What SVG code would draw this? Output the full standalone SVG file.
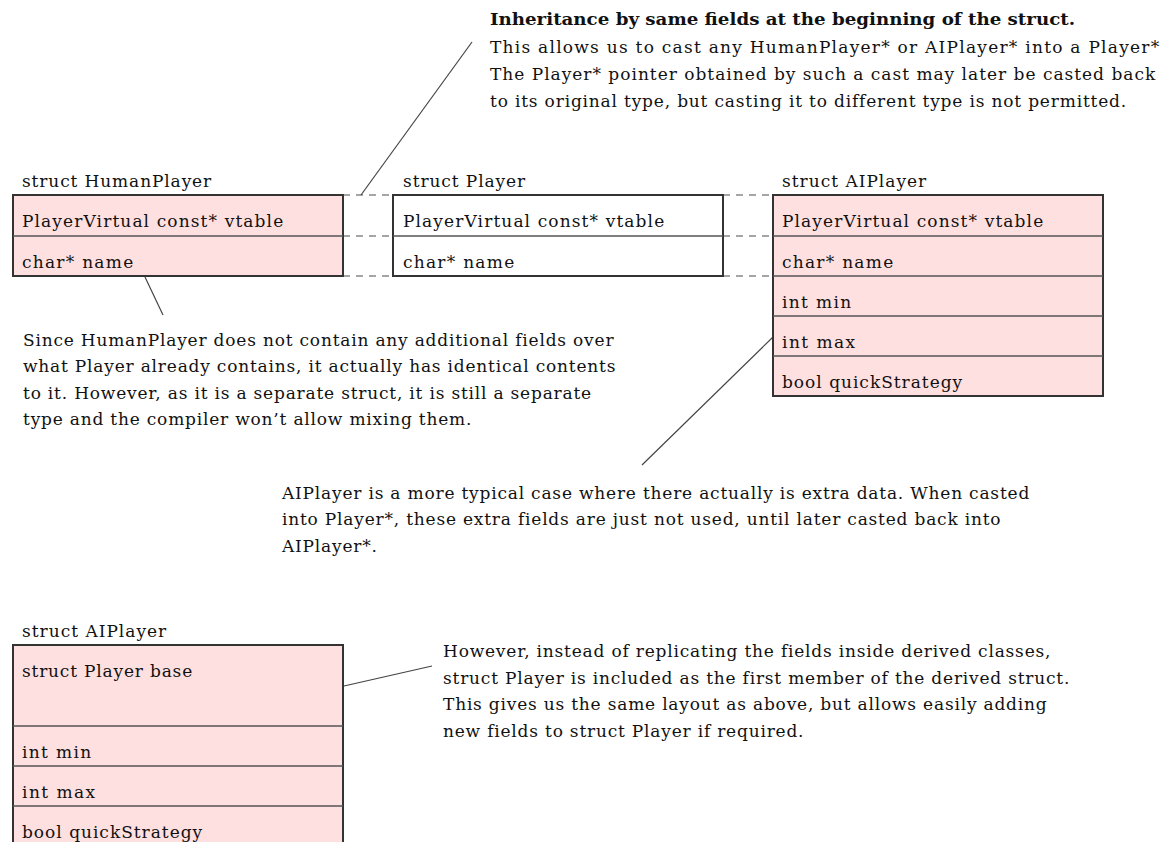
<svg xmlns="http://www.w3.org/2000/svg" width="1174" height="842" viewBox="0 0 1174 842">
<style>
  text { font-family: "DejaVu Serif", "Liberation Serif", serif; font-size: 17px; fill: #111; letter-spacing: 0.8px; }
  .b { font-weight: bold; letter-spacing: 0; }
  .box { fill: #ffe0e0; stroke: #333; stroke-width: 2; }
  .plain { fill: #fff; stroke: #333; stroke-width: 2; }
  .div { stroke: #555; stroke-width: 1.5; }
  .dash { stroke: #888; stroke-width: 1.3; stroke-dasharray: 7 6; fill: none; }
  .lead { stroke: #444; stroke-width: 1.2; fill: none; }
</style>
<rect width="1174" height="842" fill="#fff"/>

<g id="connectors">
  <line class="dash" x1="343" y1="195" x2="393" y2="195"/>
  <line class="dash" x1="343" y1="236" x2="393" y2="236"/>
  <line class="dash" x1="343" y1="276" x2="393" y2="276"/>
  <line class="dash" x1="723" y1="195" x2="773" y2="195"/>
  <line class="dash" x1="723" y1="236" x2="773" y2="236"/>
  <line class="dash" x1="723" y1="276" x2="773" y2="276"/>
  <line class="lead" x1="361" y1="195" x2="472" y2="42"/>
  <line class="lead" x1="145" y1="277" x2="163" y2="315"/>
  <line class="lead" x1="773" y1="337" x2="642" y2="465"/>
  <line class="lead" x1="344" y1="686" x2="432" y2="666"/>
</g>

<g id="note-inheritance">
  <text class="b" x="490" y="25" textLength="585" lengthAdjust="spacingAndGlyphs">Inheritance by same fields at the beginning of the struct.</text>
  <text x="490" y="53" textLength="670">This allows us to cast any HumanPlayer* or AIPlayer* into a Player*</text>
  <text x="490" y="80" textLength="666">The Player* pointer obtained by such a cast may later be casted back</text>
  <text x="490" y="107" textLength="637">to its original type, but casting it to different type is not permitted.</text>
</g>

<g id="HumanPlayer">
  <text x="22" y="187" textLength="190">struct HumanPlayer</text>
  <rect class="box" x="13" y="195" width="330" height="81"/>
  <line class="div" x1="13" y1="236" x2="343" y2="236"/>
  <text x="22" y="227" textLength="262">PlayerVirtual const* vtable</text>
  <text x="22" y="268" textLength="112">char* name</text>
</g>

<g id="Player">
  <text x="403" y="187" textLength="123">struct Player</text>
  <rect class="plain" x="393" y="195" width="330" height="81"/>
  <line class="div" x1="393" y1="236" x2="723" y2="236"/>
  <text x="403" y="227" textLength="262">PlayerVirtual const* vtable</text>
  <text x="403" y="268" textLength="112">char* name</text>
</g>

<g id="AIPlayer">
  <text x="782" y="187" textLength="145">struct AIPlayer</text>
  <rect class="box" x="773" y="195" width="330" height="201"/>
  <line class="div" x1="773" y1="236" x2="1103" y2="236"/>
  <line class="div" x1="773" y1="276" x2="1103" y2="276"/>
  <line class="div" x1="773" y1="316" x2="1103" y2="316"/>
  <line class="div" x1="773" y1="356" x2="1103" y2="356"/>
  <text x="782" y="227" textLength="262">PlayerVirtual const* vtable</text>
  <text x="782" y="268" textLength="112">char* name</text>
  <text x="782" y="308" textLength="70">int min</text>
  <text x="782" y="348" textLength="74">int max</text>
  <text x="782" y="388" textLength="181">bool quickStrategy</text>
</g>

<g id="note-human">
  <text x="23" y="346">Since HumanPlayer does not contain any additional fields over</text>
  <text x="23" y="372">what Player already contains, it actually has identical contents</text>
  <text x="23" y="399">to it. However, as it is a separate struct, it is still a separate</text>
  <text x="23" y="425">type and the compiler won’t allow mixing them.</text>
</g>

<g id="note-aiplayer">
  <text x="282" y="499">AIPlayer is a more typical case where there actually is extra data. When casted</text>
  <text x="282" y="525">into Player*, these extra fields are just not used, until later casted back into</text>
  <text x="282" y="552">AIPlayer*.</text>
</g>

<g id="AIPlayer2">
  <text x="22" y="637" textLength="145">struct AIPlayer</text>
  <rect class="box" x="13" y="645" width="330" height="202"/>
  <line class="div" x1="13" y1="726" x2="343" y2="726"/>
  <line class="div" x1="13" y1="766" x2="343" y2="766"/>
  <line class="div" x1="13" y1="806" x2="343" y2="806"/>
  <text x="22" y="677" textLength="171">struct Player base</text>
  <text x="22" y="758" textLength="70">int min</text>
  <text x="22" y="798" textLength="74">int max</text>
  <text x="22" y="838" textLength="181">bool quickStrategy</text>
</g>

<g id="note-base">
  <text x="443" y="657">However, instead of replicating the fields inside derived classes,</text>
  <text x="443" y="684">struct Player is included as the first member of the derived struct.</text>
  <text x="443" y="710">This gives us the same layout as above, but allows easily adding</text>
  <text x="443" y="737">new fields to struct Player if required.</text>
</g>
</svg>
